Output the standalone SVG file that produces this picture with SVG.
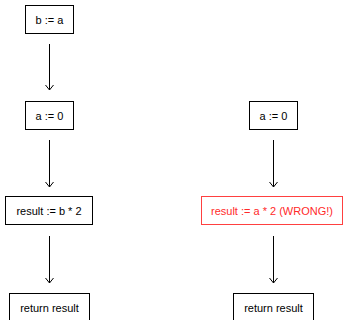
<svg xmlns="http://www.w3.org/2000/svg" width="344" height="320" viewBox="0 0 344 320">
<defs>
<marker id="arr" markerWidth="10" markerHeight="10" refX="6" refY="5" orient="auto" markerUnits="userSpaceOnUse" viewBox="0 0 10 10">
<path d="M1,1 L6,5 L1,9" fill="none" stroke="#000" stroke-width="1"/>
</marker>
<style>
.box{fill:#fff;stroke:#000;stroke-width:1}
.bad{fill:#fff;stroke:#ff4040;stroke-width:1}
text{font-family:"Liberation Sans",Arial,sans-serif;font-size:11px;text-anchor:middle;fill:#000}
.badt{fill:#ff2a2a}
.edge{stroke:#000;stroke-width:1;fill:none}
</style>
</defs>
<rect width="344" height="320" fill="#fff"/>
<g id="connectors">
<line class="edge" x1="49.5" y1="44" x2="49.5" y2="90" marker-end="url(#arr)"/>
<line class="edge" x1="49.5" y1="140" x2="49.5" y2="187" marker-end="url(#arr)"/>
<line class="edge" x1="49.5" y1="236" x2="49.5" y2="283" marker-end="url(#arr)"/>
<line class="edge" x1="273.5" y1="140" x2="273.5" y2="187" marker-end="url(#arr)"/>
<line class="edge" x1="273.5" y1="236" x2="273.5" y2="283" marker-end="url(#arr)"/>
</g>
<g id="l_b_assign">
<rect class="box" x="25.5" y="5.5" width="48" height="28"/>
<text x="49.5" y="23.5">b := a</text>
</g>
<g id="l_a_zero">
<rect class="box" x="25.5" y="101.5" width="48" height="28"/>
<text x="49.5" y="119.5">a := 0</text>
</g>
<g id="l_result">
<rect class="box" x="5.5" y="196.5" width="87" height="28"/>
<text x="49" y="214.5">result := b * 2</text>
</g>
<g id="l_return">
<rect class="box" x="9.5" y="293.5" width="80" height="28"/>
<text x="49.5" y="311.5">return result</text>
</g>
<g id="r_a_zero">
<rect class="box" x="249.5" y="101.5" width="48" height="28"/>
<text x="273.5" y="119.5">a := 0</text>
</g>
<g id="r_result">
<rect class="bad" x="201.5" y="196.5" width="141" height="28"/>
<text class="badt" x="272" y="214.5">result := a * 2 (WRONG!)</text>
</g>
<g id="r_return">
<rect class="box" x="233.5" y="293.5" width="80" height="28"/>
<text x="273.5" y="311.5">return result</text>
</g>
</svg>
